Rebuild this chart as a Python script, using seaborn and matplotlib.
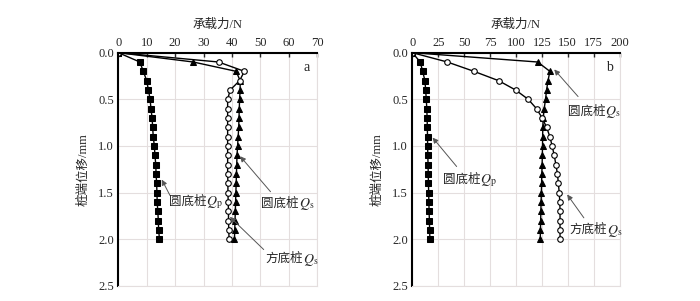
import numpy as np
import pandas as pd
import seaborn as sns
import matplotlib.pyplot as plt

# displacement (mm), 0.0 .. 2.0 every 0.1
disp = [round(0.1 * i, 1) for i in range(21)]

# panel a: bearing force (N)
a_round_qp = [0, 7.6, 8.8, 10.0, 10.6, 11.2, 11.5, 11.9, 12.1, 12.3, 12.7,
              12.9, 13.2, 13.3, 13.5, 13.6, 13.7, 13.9, 14.1, 14.2, 14.5]
a_round_qs = [0, 26.4, 41.5, 42.9, 42.9, 42.7, 42.6, 42.5, 42.4, 42.2, 42.0,
              41.8, 41.7, 41.6, 41.5, 41.4, 41.3, 41.2, 41.1, 41.0, 40.9]
a_square_qs = [0, 35.3, 44.4, 42.7, 39.4, 38.5, 38.5, 38.5, 38.5, 38.5, 38.5,
               38.5, 38.5, 38.5, 38.6, 38.6, 38.7, 38.8, 38.8, 38.9, 39.0]

# panel b: bearing force (N)
b_round_qp = [0, 7.7, 10.0, 12.2, 12.9, 13.5, 14.0, 14.3, 14.5, 14.7, 14.8,
              15.0, 15.2, 15.4, 15.6, 15.8, 16.0, 16.2, 16.5, 16.7, 17.0]
b_round_qs = [0, 121.0, 132.8, 131.0, 129.6, 128.6, 127.3, 126.4, 126.0, 125.8, 125.7,
              125.5, 125.3, 125.0, 124.8, 124.6, 124.3, 124.1, 123.9, 123.7, 123.5]
b_square_qs = [0, 33.8, 59.5, 83.3, 99.7, 111.9, 119.9, 125.4, 129.6, 132.8, 135.0,
               137.0, 138.6, 140.1, 141.0, 141.8, 142.4, 142.6, 142.6, 142.6, 142.6]

sns.set_style("white")
plt.rcParams['font.family'] = ['Liberation Serif', 'Noto Sans CJK SC']
plt.rcParams['mathtext.fontset'] = 'stix'
plt.rcParams['font.size'] = 9

fig = plt.figure(figsize=(7, 3.01), dpi=100)
ax1 = fig.add_axes([0.169, 0.050, 0.284, 0.775])
ax2 = fig.add_axes([0.589, 0.050, 0.296, 0.775])

grid_col = '#e4dede'


def draw(ax, qp, qs, sq, xmax, xstep):
    common = dict(sort=False, orient='y', estimator=None, ax=ax, color='k', lw=1)
    sns.lineplot(x=qp, y=disp, marker='s', markersize=5,
                 markeredgecolor='k', markerfacecolor='k', **common)
    sns.lineplot(x=qs, y=disp, marker='^', markersize=5,
                 markeredgecolor='k', markerfacecolor='k', **common)
    sns.lineplot(x=sq, y=disp, marker='o', markersize=4, markeredgecolor='k',
                 markerfacecolor='white', markeredgewidth=0.8, **common)
    ax.set_xlim(0, xmax)
    ax.set_ylim(2.5, 0)
    ax.set_xticks(np.arange(0, xmax + 1, xstep))
    ax.set_yticks([0, 0.5, 1.0, 1.5, 2.0, 2.5])
    ax.set_yticklabels(['0.0', '0.5', '1.0', '1.5', '2.0', '2.5'])
    ax.xaxis.tick_top()
    ax.xaxis.set_label_position('top')
    ax.tick_params(axis='both', direction='in', length=3, width=1, pad=3, labelsize=9)
    ax.grid(True, color=grid_col, lw=0.8)
    ax.set_axisbelow(True)
    for s in ['top', 'left']:
        ax.spines[s].set_color('k')
        ax.spines[s].set_linewidth(1.5)
    for s in ['right', 'bottom']:
        ax.spines[s].set_color(grid_col)
        ax.spines[s].set_linewidth(0.8)
    ax.set_xlabel('承载力/N', labelpad=6, fontsize=9)
    ax.set_ylabel('桩端位移/mm', labelpad=6, fontsize=9)


draw(ax1, a_round_qp, a_round_qs, a_square_qs, 70, 10)
draw(ax2, b_round_qp, b_round_qs, b_square_qs, 200, 25)

arrow = dict(arrowstyle='-|>', color='#555555', lw=0.7, mutation_scale=8,
             shrinkA=0, shrinkB=0)


def label(ax, name, sub, head, tail, pos):
    ax.annotate('', xy=head, xytext=tail, arrowprops=arrow)
    t = ax.text(pos[0], pos[1], name, va='center', fontsize=9)
    ax.annotate('$Q_\\mathrm{' + sub + '}$', xy=(1, 0.45), xycoords=t,
                va='center', ha='left', fontsize=10)


label(ax1, '圆底桩', 'p', (15.3, 1.36), (18.2, 1.53), (17.8, 1.6))
label(ax1, '圆底桩', 's', (42.9, 1.11), (53.6, 1.49), (50.3, 1.62))
label(ax1, '方底桩', 's', (39.3, 1.76), (51.2, 2.11), (51.8, 2.21))
ax1.text(66.2, 0.16, 'a', ha='center', va='center', fontsize=10)

label(ax2, '圆底桩', 's', (137, 0.18), (160, 0.47), (150, 0.63))
label(ax2, '圆底桩', 'p', (19.6, 0.91), (42.8, 1.22), (29.6, 1.36))
label(ax2, '方底桩', 's', (149.5, 1.52), (165.6, 1.77), (151.5, 1.9))
ax2.text(190.5, 0.155, 'b', ha='center', va='center', fontsize=10)

fig.savefig('out.png', dpi=100)
